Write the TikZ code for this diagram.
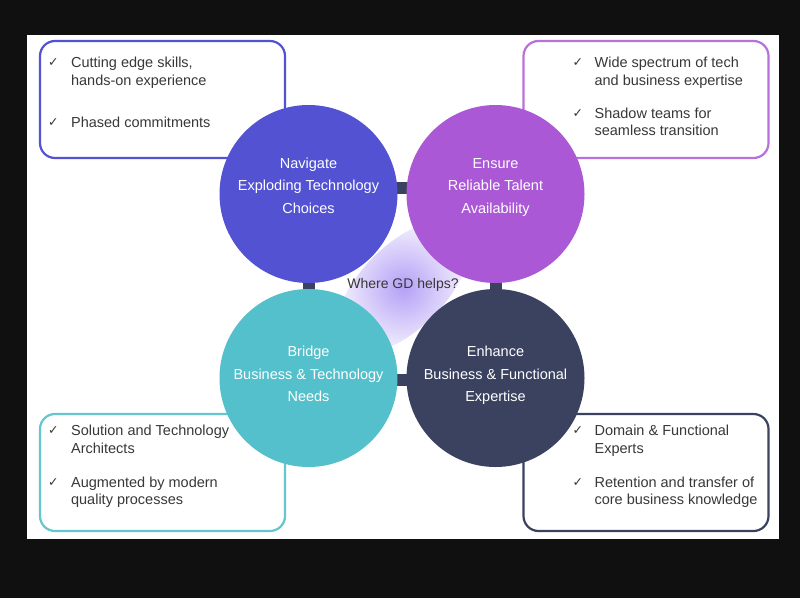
\documentclass[tikz,border=0pt]{standalone}
\usepackage{fontspec}
\setmainfont{Liberation Sans}
\newfontfamily\symfont{DejaVu Sans}
\usetikzlibrary{backgrounds}

\definecolor{navblue}{HTML}{5252D2}
\definecolor{enspurple}{HTML}{AB58D6}
\definecolor{brgteal}{HTML}{54C0CB}
\definecolor{enhslate}{HTML}{3B4260}
\definecolor{bodytext}{HTML}{383838}
\definecolor{glowviolet}{HTML}{B4A0F6}
\definecolor{frame}{HTML}{101010}

\newcommand{\chk}{\raisebox{1pt}{\symfont\fontsize{12.5}{12}\selectfont ✓}}

\begin{document}
\begin{tikzpicture}[x=1pt, y=-1pt,
    topic/.style={circle, fill=#1, minimum size=178pt, inner sep=0pt},
    topictext/.style={text=white, align=center, inner sep=0pt, anchor=base,
        font=\fontsize{14.5}{22.5}\selectfont},
    listbox/.style={draw=#1, line width=2.2pt, rounded corners=15pt, fill=white,
        minimum width=245pt, minimum height=117pt, inner sep=0pt},
    items/.style={text=bodytext, inner sep=0pt, anchor=base west,
        font=\fontsize{14.5}{17.5}\selectfont},
    bar/.style={draw=enhslate, line width=12pt}
]
    \useasboundingbox (0,0) rectangle (800,598);

    % glow behind the centre
    \shade[rotate around={45:(403,287)}, inner color=glowviolet, outer color=white]
        (403,287) ellipse [x radius=85, y radius=42];

    % side boxes
    \node[listbox=navblue] (navbox) at (162.5,99.5) {};
    \node[listbox=enspurple!85] (ensbox) at (646,99.5) {};
    \node[listbox=brgteal!90] (brgbox) at (162.5,472.5) {};
    \node[listbox=enhslate] (enhbox) at (646,472.5) {};

    % box texts
    \node[items] (navlist) at ([xshift=9pt,yshift=-28pt]navbox.north west) {%
        \begin{tabular}[t]{@{}p{23pt}@{}l@{}}
        \chk & Cutting edge skills,\\
             & hands-on experience\\[24.5pt]
        \chk & Phased commitments
        \end{tabular}};
    \node[items] (enslist) at ([xshift=50pt,yshift=-28pt]ensbox.north west) {%
        \begin{tabular}[t]{@{}p{22pt}@{}l@{}}
        \chk & Wide spectrum of tech\\
             & and business expertise\\[15.5pt]
        \chk & Shadow teams for\\
             & seamless transition
        \end{tabular}};
    \node[items] (brglist) at ([xshift=9pt,yshift=-23pt]brgbox.north west) {%
        \begin{tabular}[t]{@{}p{23pt}@{}l@{}}
        \chk & Solution and Technology\\
             & Architects\\[16.5pt]
        \chk & Augmented by modern\\
             & quality processes
        \end{tabular}};
    \node[items] (enhlist) at ([xshift=50pt,yshift=-23pt]enhbox.north west) {%
        \begin{tabular}[t]{@{}p{22pt}@{}l@{}}
        \chk & Domain \& Functional\\
             & Experts\\[16.5pt]
        \chk & Retention and transfer of\\
             & core business knowledge
        \end{tabular}};

    % circles
    \node[topic=navblue] (nav) at (308.5,194) {};
    \node[topic=enspurple] (ens) at (495.5,194) {};
    \node[topic=brgteal] (brg) at (308.5,378) {};
    \node[topic=enhslate] (enh) at (495.5,378) {};

    % texts sit on the baseline of their last line
    \node[topictext] (navtxt) at ([yshift=-19pt]nav.center) {Navigate\\Exploding Technology\\Choices};
    \node[topictext] (enstxt) at ([yshift=-19pt]ens.center) {Ensure\\Reliable Talent\\Availability};
    \node[topictext] (brgtxt) at ([yshift=-23.5pt]brg.center) {Bridge\\Business \& Technology\\Needs};
    \node[topictext] (enhtxt) at ([yshift=-23.5pt]enh.center) {Enhance\\Business \& Functional\\Expertise};

    \node[text=bodytext, anchor=base, inner sep=0pt, font=\fontsize{14}{16}\selectfont]
        (gdq) at (403,288) {Where GD helps?};

    % frame, panel and links behind everything
    \begin{scope}[on background layer]
        \fill[frame] (0,0) rectangle (800,598);
        \fill[white] (27,35) rectangle (779,539);
        \draw[bar] ([yshift=6.5pt]nav.center) -- ([yshift=6.5pt]ens.center);
        \draw[bar] (nav.center) -- (brg.center);
        \draw[bar] (ens.center) -- (enh.center);
        \draw[bar] ([yshift=-2pt]brg.center) -- ([yshift=-2pt]enh.center);
    \end{scope}
\end{tikzpicture}
\end{document}
